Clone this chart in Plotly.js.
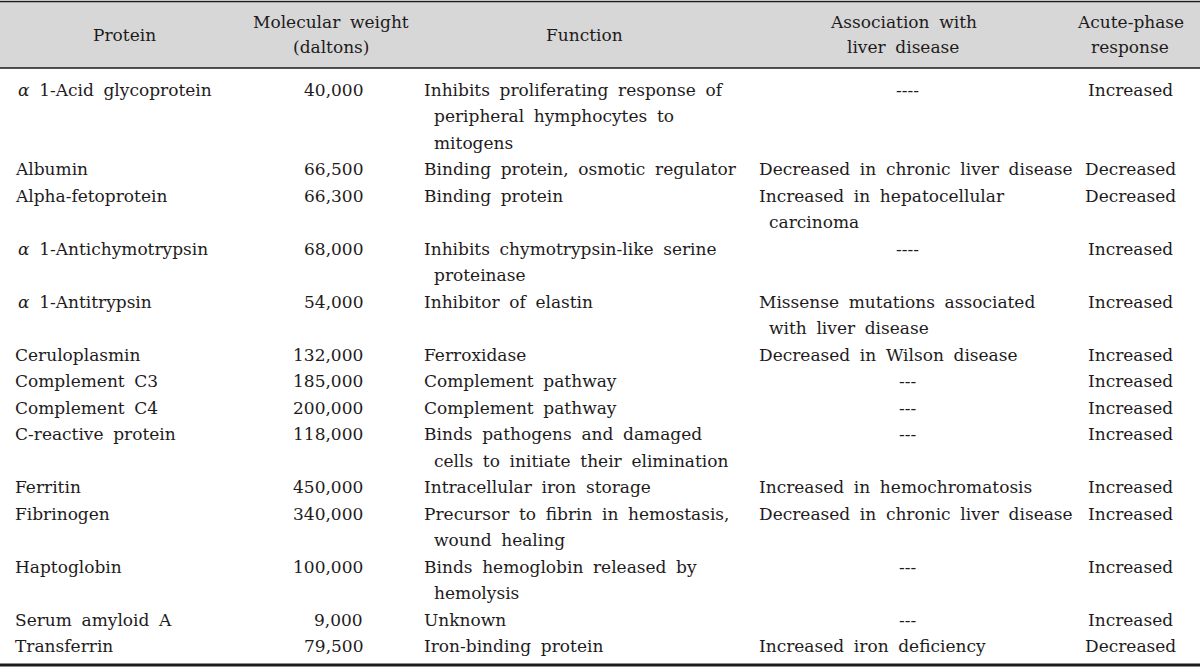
<!DOCTYPE html>
<html>
<head>
<meta charset="utf-8">
<script src="https://cdn.plot.ly/plotly-3.0.1.min.js"></script>
<style>
html,body{margin:0;padding:0;background:#fff;}
#chart{width:1200px;height:671px;}
</style>
</head>
<body>
<div id="chart"></div>
<script>
// ---- Table data ----
const headers = [["Protein"], ["Molecular weight", "(daltons)"], ["Function"], ["Association with", "liver disease"], ["Acute-phase", "response"]];

const proteins = [
  "<i>α</i> 1-Acid glycoprotein", "Albumin", "Alpha-fetoprotein", "<i>α</i> 1-Antichymotrypsin",
  "<i>α</i> 1-Antitrypsin", "Ceruloplasmin", "Complement C3", "Complement C4",
  "C-reactive protein", "Ferritin", "Fibrinogen", "Haptoglobin", "Serum amyloid A", "Transferrin"
];
const alphaPrefixed = [true, false, false, true, true, false, false, false, false, false, false, false, false, false];

const weights = ["40,000", "66,500", "66,300", "68,000", "54,000", "132,000", "185,000",
  "200,000", "118,000", "450,000", "340,000", "100,000", "9,000", "79,500"];

const functions = [
  ["Inhibits proliferating response of", "peripheral hymphocytes to", "mitogens"],
  ["Binding protein, osmotic regulator"],
  ["Binding protein"],
  ["Inhibits chymotrypsin-like serine", "proteinase"],
  ["Inhibitor of elastin"],
  ["Ferroxidase"],
  ["Complement pathway"],
  ["Complement pathway"],
  ["Binds pathogens and damaged", "cells to initiate their elimination"],
  ["Intracellular iron storage"],
  ["Precursor to fibrin in hemostasis,", "wound healing"],
  ["Binds hemoglobin released by", "hemolysis"],
  ["Unknown"],
  ["Iron-binding protein"]
];

const associations = [
  ["----"],
  ["Decreased in chronic liver disease"],
  ["Increased in hepatocellular", "carcinoma"],
  ["----"],
  ["Missense mutations associated", "with liver disease"],
  ["Decreased in Wilson disease"],
  ["---"],
  ["---"],
  ["---"],
  ["Increased in hemochromatosis"],
  ["Decreased in chronic liver disease"],
  ["---"],
  ["---"],
  ["Increased iron deficiency"]
];

const acutePhase = ["Increased", "Decreased", "Decreased", "Increased", "Increased", "Increased",
  "Increased", "Increased", "Increased", "Increased", "Increased", "Increased", "Increased", "Decreased"];

// ---- Layout config ----
const W = 1200, H = 671;
const FONT = "DejaVu Serif, Liberation Serif, serif";
const FS = 17;
const INK = "#1e1b1c";
const WIDE_SPACE = " \u2005";
const headerTop = 1.5, headerBottom = 68, tableBottom = 665;
const headerCenters = [124, 331, 584, 903, 1130];
const firstLineY = 90, lineStep = 26.48;
const col = {protX: 14, alphaX: 17, weightRight: 364, funcX: 423, indent: 10, assocX: 758, dashCenter: 907, acuteCenter: 1130};

const annotations = [];
function addText(text, x, y, xanchor) {
  annotations.push({
    text: text.split(" ").join(WIDE_SPACE), x: x, y: y, xref: "x", yref: "y", xanchor: xanchor, yanchor: "middle",
    showarrow: false, borderpad: 0, font: {family: FONT, size: FS, color: INK}
  });
}

// Header
headers.forEach((lines, c) => {
  const mid = (headerTop + headerBottom) / 2;
  const step = 25;
  lines.forEach((t, k) => {
    const y = mid + (k - (lines.length - 1) / 2) * step;
    addText(t, headerCenters[c], y, "center");
  });
});

// Body
let lineIdx = 0;
proteins.forEach((p, r) => {
  const y0 = firstLineY + lineIdx * lineStep;
  addText(p, alphaPrefixed[r] ? col.alphaX : col.protX, y0, "left");
  addText(weights[r], col.weightRight, y0, "right");
  functions[r].forEach((t, k) => {
    addText(t, col.funcX + (k > 0 ? col.indent : 0), y0 + k * lineStep, "left");
  });
  associations[r].forEach((t, k) => {
    if (/^-+$/.test(t)) addText(t, col.dashCenter, y0 + k * lineStep, "center");
    else addText(t, col.assocX + (k > 0 ? col.indent : 0), y0 + k * lineStep, "left");
  });
  addText(acutePhase[r], col.acuteCenter, y0, "center");
  lineIdx += Math.max(1, functions[r].length, associations[r].length);
});

const shapes = [
  {type: "rect", xref: "x", yref: "y", x0: 0, x1: W, y0: headerTop, y1: headerBottom, fillcolor: "#d7d7d7", line: {width: 0}, layer: "below"},
  {type: "line", xref: "x", yref: "y", x0: 0, x1: W, y0: headerTop, y1: headerTop, line: {color: "#1a1a1a", width: 1.5}},
  {type: "line", xref: "x", yref: "y", x0: 0, x1: W, y0: headerBottom, y1: headerBottom, line: {color: "#1a1a1a", width: 1.5}},
  {type: "line", xref: "x", yref: "y", x0: 0, x1: W, y0: tableBottom, y1: tableBottom, line: {color: "#1a1a1a", width: 3}}
];

const layout = {
  width: W, height: H,
  margin: {l: 0, r: 0, t: 0, b: 0, pad: 0},
  paper_bgcolor: "#ffffff", plot_bgcolor: "#ffffff",
  showlegend: false,
  xaxis: {range: [0, W], visible: false, fixedrange: true},
  yaxis: {range: [H, 0], visible: false, fixedrange: true},
  annotations: annotations,
  shapes: shapes
};

Plotly.newPlot("chart", [{x: [], y: [], type: "scatter", mode: "markers"}], layout, {staticPlot: true, displayModeBar: false});
</script>
</body>
</html>
